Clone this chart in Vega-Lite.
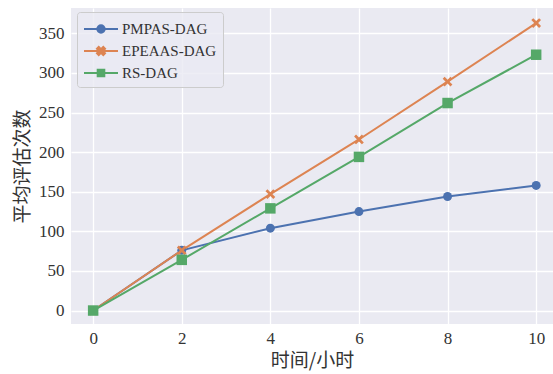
{
  "$schema": "https://vega.github.io/schema/vega-lite/v6.json",
  "width": 482,
  "height": 316,
  "autosize": "none",
  "padding": {"left": 71, "top": 8, "right": 0, "bottom": 50},
  "background": "white",
  "config": {
    "view": {"fill": "#EAEAF2", "stroke": null},
    "axis": {
      "domain": false,
      "ticks": false,
      "gridColor": "white",
      "gridWidth": 1.3,
      "labelFont": "Liberation Serif",
      "labelFontSize": 17,
      "labelColor": "#333333",
      "titleFont": "Noto Sans CJK SC",
      "titleFontSize": 19,
      "titleFontWeight": "normal",
      "titleColor": "#333333"
    }
  },
  "data": {
    "values": [
      {"hours": 0, "evals": 0, "method": "PMPAS-DAG"},
      {"hours": 2, "evals": 76, "method": "PMPAS-DAG"},
      {"hours": 4, "evals": 104, "method": "PMPAS-DAG"},
      {"hours": 6, "evals": 125, "method": "PMPAS-DAG"},
      {"hours": 8, "evals": 144, "method": "PMPAS-DAG"},
      {"hours": 10, "evals": 158, "method": "PMPAS-DAG"},
      {"hours": 0, "evals": 0, "method": "EPEAAS-DAG"},
      {"hours": 2, "evals": 76, "method": "EPEAAS-DAG"},
      {"hours": 4, "evals": 147, "method": "EPEAAS-DAG"},
      {"hours": 6, "evals": 216, "method": "EPEAAS-DAG"},
      {"hours": 8, "evals": 289, "method": "EPEAAS-DAG"},
      {"hours": 10, "evals": 363, "method": "EPEAAS-DAG"},
      {"hours": 0, "evals": 0, "method": "RS-DAG"},
      {"hours": 2, "evals": 64, "method": "RS-DAG"},
      {"hours": 4, "evals": 129, "method": "RS-DAG"},
      {"hours": 6, "evals": 194, "method": "RS-DAG"},
      {"hours": 8, "evals": 262, "method": "RS-DAG"},
      {"hours": 10, "evals": 323, "method": "RS-DAG"}
    ]
  },
  "encoding": {
    "x": {
      "field": "hours",
      "type": "quantitative",
      "title": "时间/小时",
      "scale": {"domain": [-0.5, 10.38], "nice": false, "zero": false},
      "axis": {"values": [0, 2, 4, 6, 8, 10], "labelPadding": 6, "titlePadding": 5}
    },
    "y": {
      "field": "evals",
      "type": "quantitative",
      "title": "平均评估次数",
      "scale": {"domain": [-17, 382], "nice": false, "zero": false},
      "axis": {"values": [0, 50, 100, 150, 200, 250, 300, 350], "labelPadding": 7, "titlePadding": 6}
    }
  },
  "layer": [
    {
      "transform": [{"filter": "datum.hours < 0"}],
      "mark": {"type": "point", "filled": true, "opacity": 1, "strokeWidth": 2},
      "encoding": {
        "fill": {
          "field": "method",
          "type": "nominal",
          "scale": {"domain": ["PMPAS-DAG", "EPEAAS-DAG", "RS-DAG"], "range": ["#4C72B0", "#DD8452", "#55A868"]}
        },
        "stroke": {
          "field": "method",
          "type": "nominal",
          "scale": {"domain": ["PMPAS-DAG", "EPEAAS-DAG", "RS-DAG"], "range": ["#4C72B0", "#DD8452", "#55A868"]}
        },
        "shape": {
          "field": "method",
          "type": "nominal",
          "scale": {
            "domain": ["PMPAS-DAG", "EPEAAS-DAG", "RS-DAG"],
            "range": [
              "M-1.7,0H1.7M-0.37,0A0.37,0.37,0,1,1,0.37,0A0.37,0.37,0,1,1,-0.37,0Z",
              "M-1.7,0H1.7M-0.4,-0.23L-0.23,-0.4L0,-0.17L0.23,-0.4L0.4,-0.23L0.17,0L0.4,0.23L0.23,0.4L0,0.17L-0.23,0.4L-0.4,0.23L-0.17,0Z",
              "M-1.7,0H1.7M-0.33,-0.33H0.33V0.33H-0.33Z"
            ]
          },
          "legend": {
            "title": null,
            "orient": "none",
            "legendX": 6,
            "legendY": 4,
            "fillColor": "rgba(234,234,242,0.8)",
            "strokeColor": "#CCCCCC",
            "cornerRadius": 3,
            "padding": 6,
            "labelFont": "Liberation Serif",
            "labelFontSize": 15,
            "labelColor": "#333333",
            "labelOffset": 10,
            "symbolOffset": 7,
            "symbolSize": 400,
            "symbolStrokeWidth": 2,
            "symbolOpacity": 1,
            "rowPadding": 3
          }
        }
      }
    },
    {
      "mark": {"type": "line", "strokeWidth": 2},
      "encoding": {
        "stroke": {
          "field": "method",
          "type": "nominal",
          "scale": {"domain": ["PMPAS-DAG", "EPEAAS-DAG", "RS-DAG"], "range": ["#4C72B0", "#DD8452", "#55A868"]},
          "legend": null
        }
      }
    },
    {
      "mark": {"type": "point", "filled": true, "opacity": 1},
      "encoding": {
        "fill": {
          "field": "method",
          "type": "nominal",
          "scale": {"domain": ["PMPAS-DAG", "EPEAAS-DAG", "RS-DAG"], "range": ["#4C72B0", "#DD8452", "#55A868"]},
          "legend": null
        },
        "shape": {
          "field": "method",
          "type": "nominal",
          "scale": {
            "domain": ["PMPAS-DAG", "EPEAAS-DAG", "RS-DAG"],
            "range": ["circle", "M-1,-0.6L-0.6,-1L0,-0.4L0.6,-1L1,-0.6L0.4,0L1,0.6L0.6,1L0,0.4L-0.6,1L-1,0.6L-0.4,0Z", "square"]
          },
          "legend": null
        },
        "size": {
          "field": "method",
          "type": "nominal",
          "scale": {"domain": ["PMPAS-DAG", "EPEAAS-DAG", "RS-DAG"], "range": [80, 110, 90]},
          "legend": null
        }
      }
    }
  ],
  "resolve": {
    "scale": {"fill": "independent", "stroke": "independent", "shape": "independent", "size": "independent"}
  }
}
